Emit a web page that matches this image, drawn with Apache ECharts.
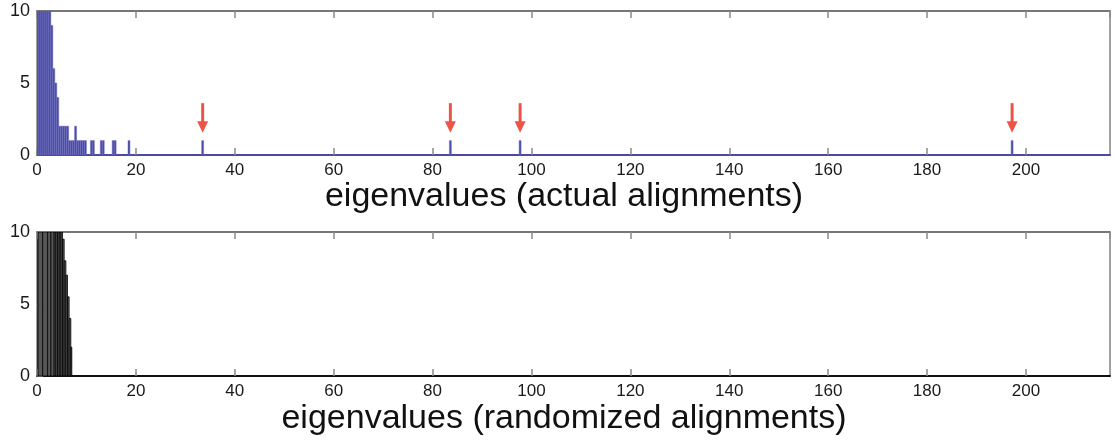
<!DOCTYPE html>
<html style="height: 100%">

<head>
  <meta charset="utf-8">
  <title>eigenvalues</title>
</head>

<body style="height: 100%; margin: 0; background: #fff">
  <div id="container" style="width: 1114px; height: 440px"></div>
  <script type="text/javascript" src="https://cdn.jsdelivr.net/npm/echarts@6/dist/echarts.min.js"></script>
  <script type="text/javascript">
    // histogram bins, counts are clipped at 10 like the original plot
    var topBinWidth = 0.4;
    var topX = [0.2, 0.6, 1.0, 1.4, 1.8, 2.2, 2.6, 3.0, 3.4, 3.8, 4.2, 4.6, 5.0, 5.4, 5.8, 6.2,
      6.6, 7.0, 7.4, 7.8, 8.2, 8.6, 9.0, 9.4, 9.8, 11.0, 11.4, 13.0, 13.4, 15.4, 15.8, 18.6,
      33.5, 83.6, 97.7, 197.2];
    var topCount = [10, 10, 10, 10, 10, 10, 10, 9, 6, 5, 4, 2, 2, 2, 2, 2,
      1, 1, 1, 2, 1, 1, 1, 1, 1, 1, 1, 1, 1, 1, 1, 1,
      1, 1, 1, 1];

    var botX = [0.7, 1.65, 2.48, 3.14, 3.65, 3.99, 4.33, 4.67, 5.0, 5.33, 5.67, 6.0, 6.33, 6.67, 6.94];
    var botWidth = [0.9, 1.0, 0.66, 0.66, 0.34, 0.34, 0.34, 0.34, 0.33, 0.33, 0.34, 0.33, 0.33, 0.34, 0.2];
    var botCount = [10, 10, 10, 10, 10, 10, 10, 10, 10, 9.5, 8, 7, 5.5, 4, 2];

    // peaks marked with red arrows
    var arrowX = [33.5, 83.6, 97.7, 197.2];

    var titles = ['eigenvalues (actual alignments)', 'eigenvalues (randomized alignments)'];

    var font = 'Liberation Sans, Arial, Helvetica, sans-serif';

    var dom = document.getElementById("container");
    var myChart = echarts.init(dom);

    function histItem(fill, stroke, lw) {
      return function (params, api) {
        var x = api.value(0), w = api.value(1), h = api.value(2);
        var p0 = api.coord([x - w / 2, h]);
        var p1 = api.coord([x + w / 2, 0]);
        return {
          type: 'rect',
          shape: { x: p0[0], y: p0[1], width: p1[0] - p0[0], height: p1[1] - p0[1] },
          style: { fill: fill, stroke: stroke, lineWidth: lw }
        };
      };
    }

    function arrowItem(params, api) {
      var x = api.value(0);
      var top = api.coord([x, 3.6]);
      var base = api.coord([x, 2.35]);
      var tip = api.coord([x, 1.55]);
      return {
        type: 'group',
        children: [{
          type: 'line',
          shape: { x1: top[0], y1: top[1], x2: base[0], y2: base[1] + 1 },
          style: { stroke: '#ee5446', lineWidth: 3 }
        }, {
          type: 'polygon',
          shape: { points: [[base[0] - 5.5, base[1]], [base[0] + 5.5, base[1]], [tip[0], tip[1]]] },
          style: { fill: '#ee5446' }
        }]
      };
    }

    function bottomAxis(grid, lineColor) {
      return {
        type: 'value', gridIndex: grid, position: 'bottom',
        min: 0, max: 217, interval: 20,
        axisLine: { show: true, onZero: false, lineStyle: { color: lineColor, width: 2 } },
        axisTick: { show: true, inside: true, length: 7, lineStyle: { color: '#8a8a8a', width: 1.5 } },
        axisLabel: {
          show: true, showMaxLabel: false, margin: 7, fontSize: 17, color: '#1a1a1a', fontFamily: font
        },
        splitLine: { show: false }
      };
    }

    function topAxis(grid) {
      return {
        type: 'value', gridIndex: grid, position: 'top',
        min: 0, max: 217, interval: 20,
        axisLine: { show: true, onZero: false, lineStyle: { color: '#777', width: 2 } },
        axisTick: { show: true, inside: true, length: 7, lineStyle: { color: '#8a8a8a', width: 1.5 } },
        axisLabel: { show: false },
        splitLine: { show: false }
      };
    }

    function leftAxis(grid) {
      return {
        type: 'value', gridIndex: grid,
        min: 0, max: 10, interval: 5,
        axisLine: { show: true, lineStyle: { color: '#333', width: 1 } },
        axisTick: { show: true, inside: true, length: 6, lineStyle: { color: '#555', width: 1 } },
        axisLabel: { margin: 7, fontSize: 18, color: '#1a1a1a', fontFamily: font },
        splitLine: { show: false }
      };
    }

    var option = {
      animation: false,
      backgroundColor: '#fff',
      graphic: [{
        type: 'text', x: 564, y: 197,
        style: { text: titles[0], font: '34px ' + font, fill: '#111', textAlign: 'center', textVerticalAlign: 'middle' }
      }, {
        type: 'text', x: 564, y: 419,
        style: { text: titles[1], font: '34px ' + font, fill: '#111', textAlign: 'center', textVerticalAlign: 'middle' }
      }],
      grid: [
        { left: 37, right: 4, top: 11, height: 144, show: true, borderColor: '#444', borderWidth: 1 },
        { left: 37, right: 4, top: 232, height: 144, show: true, borderColor: '#444', borderWidth: 1 }
      ],
      xAxis: [bottomAxis(0, '#4a4aa6'), topAxis(0), bottomAxis(1, '#111'), topAxis(1)],
      yAxis: [leftAxis(0), leftAxis(1)],
      series: [{
        type: 'custom', xAxisIndex: 0, yAxisIndex: 0, clip: true,
        renderItem: histItem('#4a4aa0', '#6f6fc2', 0.5),
        data: topX.map(function (x, i) { return [x, topBinWidth, topCount[i]]; })
      }, {
        type: 'custom', xAxisIndex: 0, yAxisIndex: 0,
        renderItem: arrowItem,
        data: arrowX.map(function (x) { return [x]; })
      }, {
        type: 'custom', xAxisIndex: 2, yAxisIndex: 1, clip: true,
        renderItem: histItem('#575757', '#000', 0.8),
        data: botX.map(function (x, i) { return [x, botWidth[i], botCount[i]]; })
      }]
    };
    myChart.setOption(option, true);
  </script>
</body>

</html>
